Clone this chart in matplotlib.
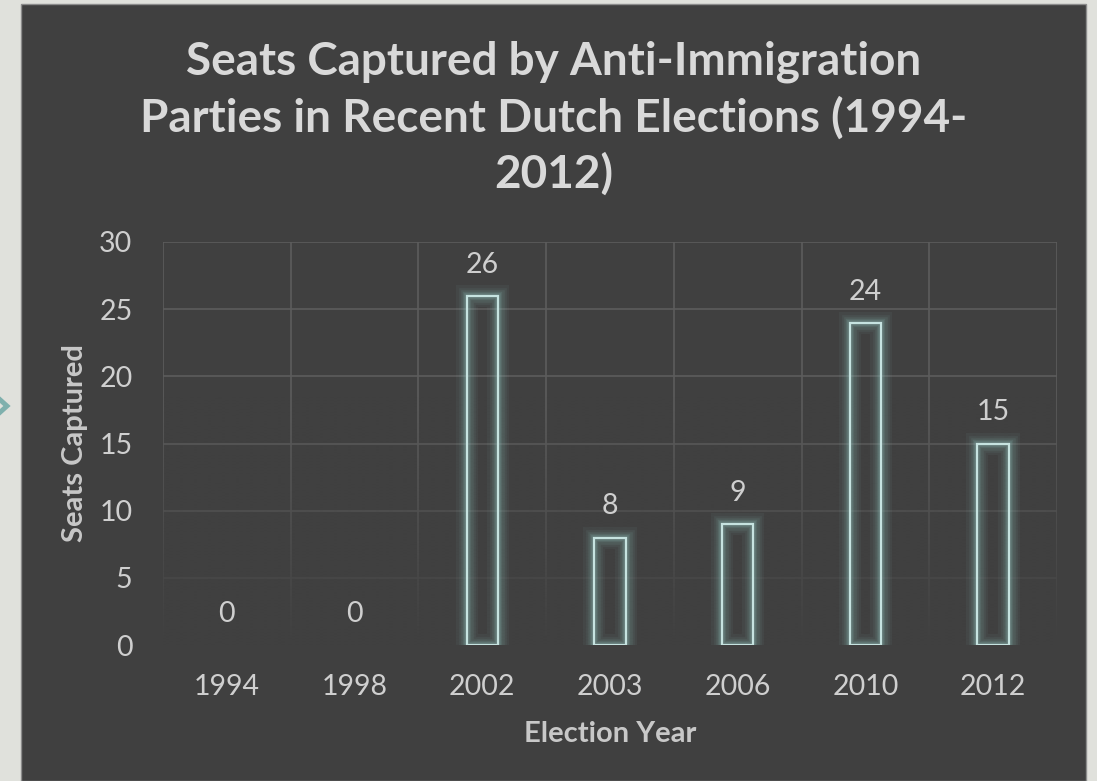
import numpy as np
import matplotlib
matplotlib.use("Agg")
import matplotlib.pyplot as plt
from matplotlib.patches import Rectangle
from matplotlib.lines import Line2D

years = ["1994", "1998", "2002", "2003", "2006", "2010", "2012"]
seats = [0, 0, 26, 8, 9, 24, 15]
yticks = [0, 5, 10, 15, 20, 25, 30]
title = "Seats Captured by Anti-Immigration\nParties in Recent Dutch Elections (1994-\n2012)"
xlabel = "Election Year"
ylabel = "Seats Captured"

plt.rcParams['font.family'] = ['Lato', 'DejaVu Sans']

W, H = 1097, 781
fig = plt.figure(figsize=(W / 100, H / 100), dpi=100)
fig.patch.set_facecolor('#e0e1dc')

panel_bg = '#404040'
# dark panel
fig.patches.append(Rectangle((21 / W, 0), (1086 - 21) / W, (781 - 4) / H,
                             transform=fig.transFigure, facecolor=panel_bg,
                             edgecolor='#8c8c8c', linewidth=1.0, zorder=-10))
# small chevron decoration at left edge
fig.lines.append(Line2D([-3 / W, 7 / W, -3 / W],
                        [1 - 397 / H, 1 - 406 / H, 1 - 415 / H],
                        transform=fig.transFigure, color='#7fb0ad',
                        linewidth=3.5, solid_joinstyle='miter', zorder=-5))

ax = fig.add_axes([163 / W, 1 - 645 / H, (1057 - 163) / W, (645 - 242) / H])
ax.set_zorder(1)
ax.set_facecolor(panel_bg)
x = np.arange(len(years))

# gridlines
grid_c = '#5c5c5c'
for yv in yticks:
    ax.axhline(yv, color=grid_c, linewidth=1.2, zorder=1)
for xv in np.arange(-0.5, len(years), 1.0):
    ax.axvline(xv, color=grid_c, linewidth=1.2, zorder=1)

# fade overlay (grid fades toward the bottom)
t = np.linspace(0, 1, 256)[:, None]  # 0 bottom -> 1 top
alpha = np.clip(1 - t / 0.62, 0, 1) ** 1.1
rgba = np.zeros((256, 1, 4))
rgba[..., 0] = rgba[..., 1] = rgba[..., 2] = 0x40 / 255
rgba[..., 3] = alpha
ax.imshow(rgba, extent=[-0.5, len(years) - 0.5, 0, 30], origin='lower',
          aspect='auto', zorder=2, interpolation='bilinear')

bw = 0.247
edge_main = '#c6e3e0'
glow = (0.55, 0.74, 0.72)
edges = [edge_main if v > 0 else 'none' for v in seats]
for lw, a in [(16, 0.06), (12, 0.08), (9, 0.10), (6, 0.14), (4, 0.2)]:
    ec = [(*glow, a) if v > 0 else 'none' for v in seats]
    ax.bar(x, seats, width=bw, facecolor='none', edgecolor=ec,
           linewidth=lw, zorder=3, joinstyle='miter')
bars = ax.bar(x, seats, width=bw, facecolor='none', edgecolor=edges,
              linewidth=1.6, zorder=4, joinstyle='miter')
ax.bar_label(bars, labels=[str(v) for v in seats], padding=13,
             fontsize=20.5, color='#cfcfcf')

ax.set_xlim(-0.5, len(years) - 0.5)
ax.set_ylim(0, 30)
for s in ax.spines.values():
    s.set_visible(False)
ax.set_xticks(x)
ax.set_xticklabels(years)
ax.set_yticks(yticks)
ax.tick_params(axis='both', length=0, labelsize=20.5, labelcolor='#cfcfcf')
ax.tick_params(axis='x', pad=21)
ax.tick_params(axis='y', pad=22)
ax.set_xlabel(xlabel, fontsize=21, fontweight='bold', color='#c8c8c8', labelpad=15)
ax.set_ylabel(ylabel, fontsize=21, fontweight='bold', color='#c8c8c8', labelpad=8)

fig.text(553.5 / W, 1 - 118 / H, title, ha='center', va='center',
         fontsize=33, fontweight='bold', color='#d9d9d9', linespacing=1.36)

fig.savefig('out.png', dpi=100, facecolor=fig.get_facecolor())
